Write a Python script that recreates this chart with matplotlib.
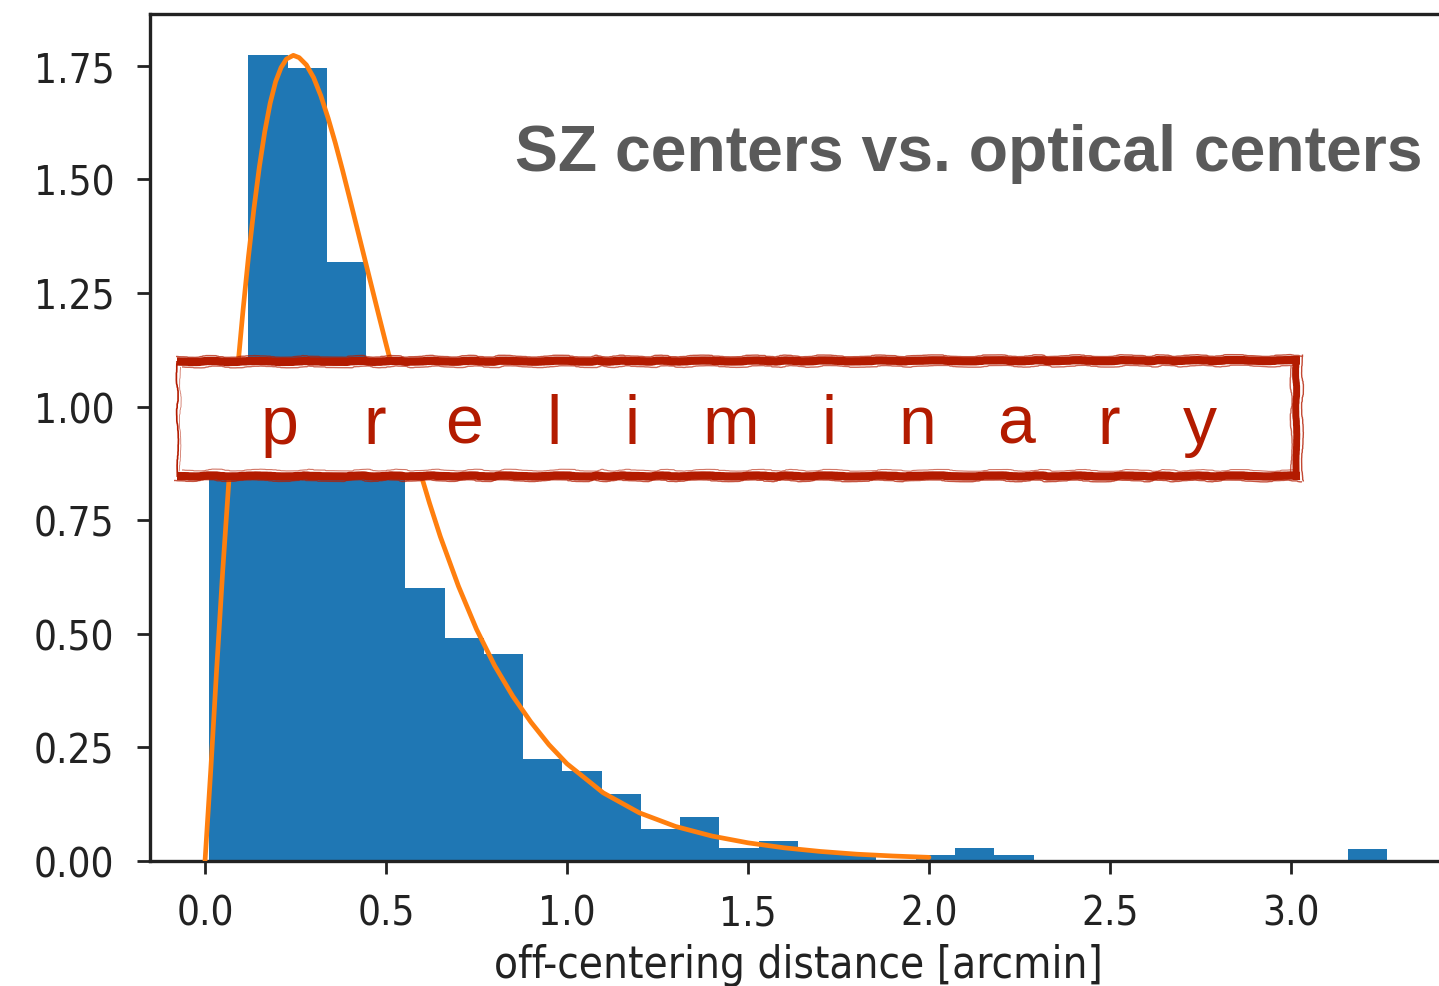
import numpy as np
import matplotlib
matplotlib.use("Agg")
import matplotlib.pyplot as plt
from matplotlib.patches import Rectangle

# ---------------- data ----------------
bin_range = [0.011, 3.265]   # first / last bin edge (arcmin)
n_bins = 30
hist_heights = [0.89, 1.773, 1.746, 1.319, 1.02, 0.600, 0.490, 0.455, 0.2245, 0.199,
                0.1475, 0.070, 0.096, 0.0286, 0.044, 0.0215, 0.0143, 0.0, 0.0143, 0.0286,
                0.0143, 0.0, 0.0, 0.0, 0.0, 0.0, 0.0, 0.0, 0.0, 0.0275]

fit_x = [0.000, 0.016, 0.032, 0.049, 0.067, 0.080, 0.092, 0.105, 0.120, 0.135, 0.150,
         0.165, 0.180, 0.195, 0.210, 0.225, 0.244, 0.26, 0.28, 0.30, 0.32, 0.34, 0.36,
         0.38, 0.40, 0.42, 0.44, 0.46, 0.48, 0.50, 0.52, 0.54, 0.56, 0.58, 0.60, 0.62,
         0.65, 0.70, 0.75, 0.80, 0.85, 0.90, 0.95, 1.00, 1.10, 1.20, 1.30, 1.40, 1.50,
         1.60, 1.70, 1.80, 1.90, 2.00]
fit_y = [0.000, 0.202, 0.420, 0.640, 0.850, 0.985, 1.100, 1.212, 1.330, 1.435, 1.527,
         1.605, 1.668, 1.715, 1.746, 1.765, 1.773, 1.768, 1.752, 1.724, 1.684, 1.635, 1.580,
         1.520, 1.457, 1.393, 1.329, 1.265, 1.201, 1.138, 1.076, 1.015, 0.955, 0.897, 0.841, 0.788,
         0.714, 0.605, 0.510, 0.430, 0.363, 0.306, 0.256, 0.214, 0.150, 0.106, 0.076, 0.055, 0.040,
         0.029, 0.021, 0.015, 0.011, 0.008]

xticks = [0.0, 0.5, 1.0, 1.5, 2.0, 2.5, 3.0]
yticks = [0.0, 0.25, 0.5, 0.75, 1.0, 1.25, 1.5, 1.75]
xlabel = "off-centering distance [arcmin]"
title_text = "SZ centers vs. optical centers"
stamp_letters = list("preliminary")

# ---------------- figure ----------------
W, H = 1439, 987
fig = plt.figure(figsize=(W / 100, H / 100), dpi=100)
ax = fig.add_axes([150 / W, (H - 862) / H, (1447 - 150) / W, (862 - 15) / H])

edges = np.linspace(bin_range[0], bin_range[1], n_bins + 1)
ax.bar(edges[:-1], hist_heights, width=np.diff(edges), align="edge",
       color="#1f77b4", linewidth=0, zorder=2)
ax.plot(fit_x, fit_y, color="#ff7f0e", lw=3.4, zorder=3,
        solid_joinstyle="round", solid_capstyle="round")

ax.set_xlim(-0.152, 3.431)
ax.set_ylim(0, 1.864)

tick_font = dict(family="DejaVu Sans", stretch="condensed", size=29, color="#222222")
label_font = dict(family="DejaVu Sans", stretch="condensed", size=31.5, color="#222222")
ax.set_xticks(xticks)
ax.set_xticklabels([f"{v:.1f}" for v in xticks], fontdict=tick_font)
ax.set_yticks(yticks)
ax.set_yticklabels([f"{v:.2f}" for v in yticks], fontdict=tick_font)
ax.tick_params(axis="both", length=9.5, width=2.0, color="#222222")
ax.tick_params(axis="y", pad=16)
ax.tick_params(axis="x", pad=14)
for s in ax.spines.values():
    s.set_linewidth(2.4)
    s.set_color("#222222")
ax.set_xlabel(xlabel, fontdict=label_font, labelpad=7)

# ---------------- overlay (pixel coordinates) ----------------
ov = fig.add_axes([0, 0, 1, 1], zorder=10)
ov.set_xlim(0, W)
ov.set_ylim(H, 0)
ov.axis("off")
ov.patch.set_alpha(0)

red = "#b31b00"
ov.add_patch(Rectangle((177, 360), 1123, 118, facecolor="white", edgecolor="none", zorder=1))

def rough(xs, ys, lw, sk=0.6, alpha=1.0):
    ln, = ov.plot(xs, ys, color=red, lw=lw, alpha=alpha, solid_capstyle="butt", zorder=2)
    ln.set_sketch_params(scale=sk, length=250, randomness=40)
    return ln

# top band
rough([177, 1300], [362.5, 361.5], 6.0, 0.5)
rough([176, 1302], [357.5, 356.5], 1.0, 0.9, 0.75)
rough([182, 1296], [368, 367], 1.0, 0.9, 0.65)
# bottom band
rough([177, 1300], [476.5, 476.5], 6.0, 0.5)
rough([174, 1302], [481.5, 482], 1.0, 0.9, 0.75)
rough([182, 1294], [471, 471.5], 0.8, 0.9, 0.6)
# right band
rough([1296, 1296.5], [357, 481], 5.0, 0.5)
rough([1301.5, 1301.5], [355, 482], 1.0, 0.9, 0.8)
rough([1291, 1291.5], [367, 473], 1.0, 0.9, 0.7)
# left thin
rough([177, 178], [362, 478], 1.2, 0.8)
rough([180.5, 180], [368, 472], 0.6, 0.8, 0.6)

letter_x = [280, 375, 464, 554, 632, 731, 829, 917, 1016, 1109, 1200]
for ch, lx in zip(stamp_letters, letter_x):
    ov.text(lx, 443.5, ch, ha="center", va="baseline", color=red,
            family="Liberation Sans", size=49, zorder=3)

ov.text(515, 171, title_text, ha="left", va="baseline", color="#5a5a5a",
        family="Liberation Sans", weight="bold", size=46.4, zorder=3)

fig.savefig("out.png", dpi=100)
